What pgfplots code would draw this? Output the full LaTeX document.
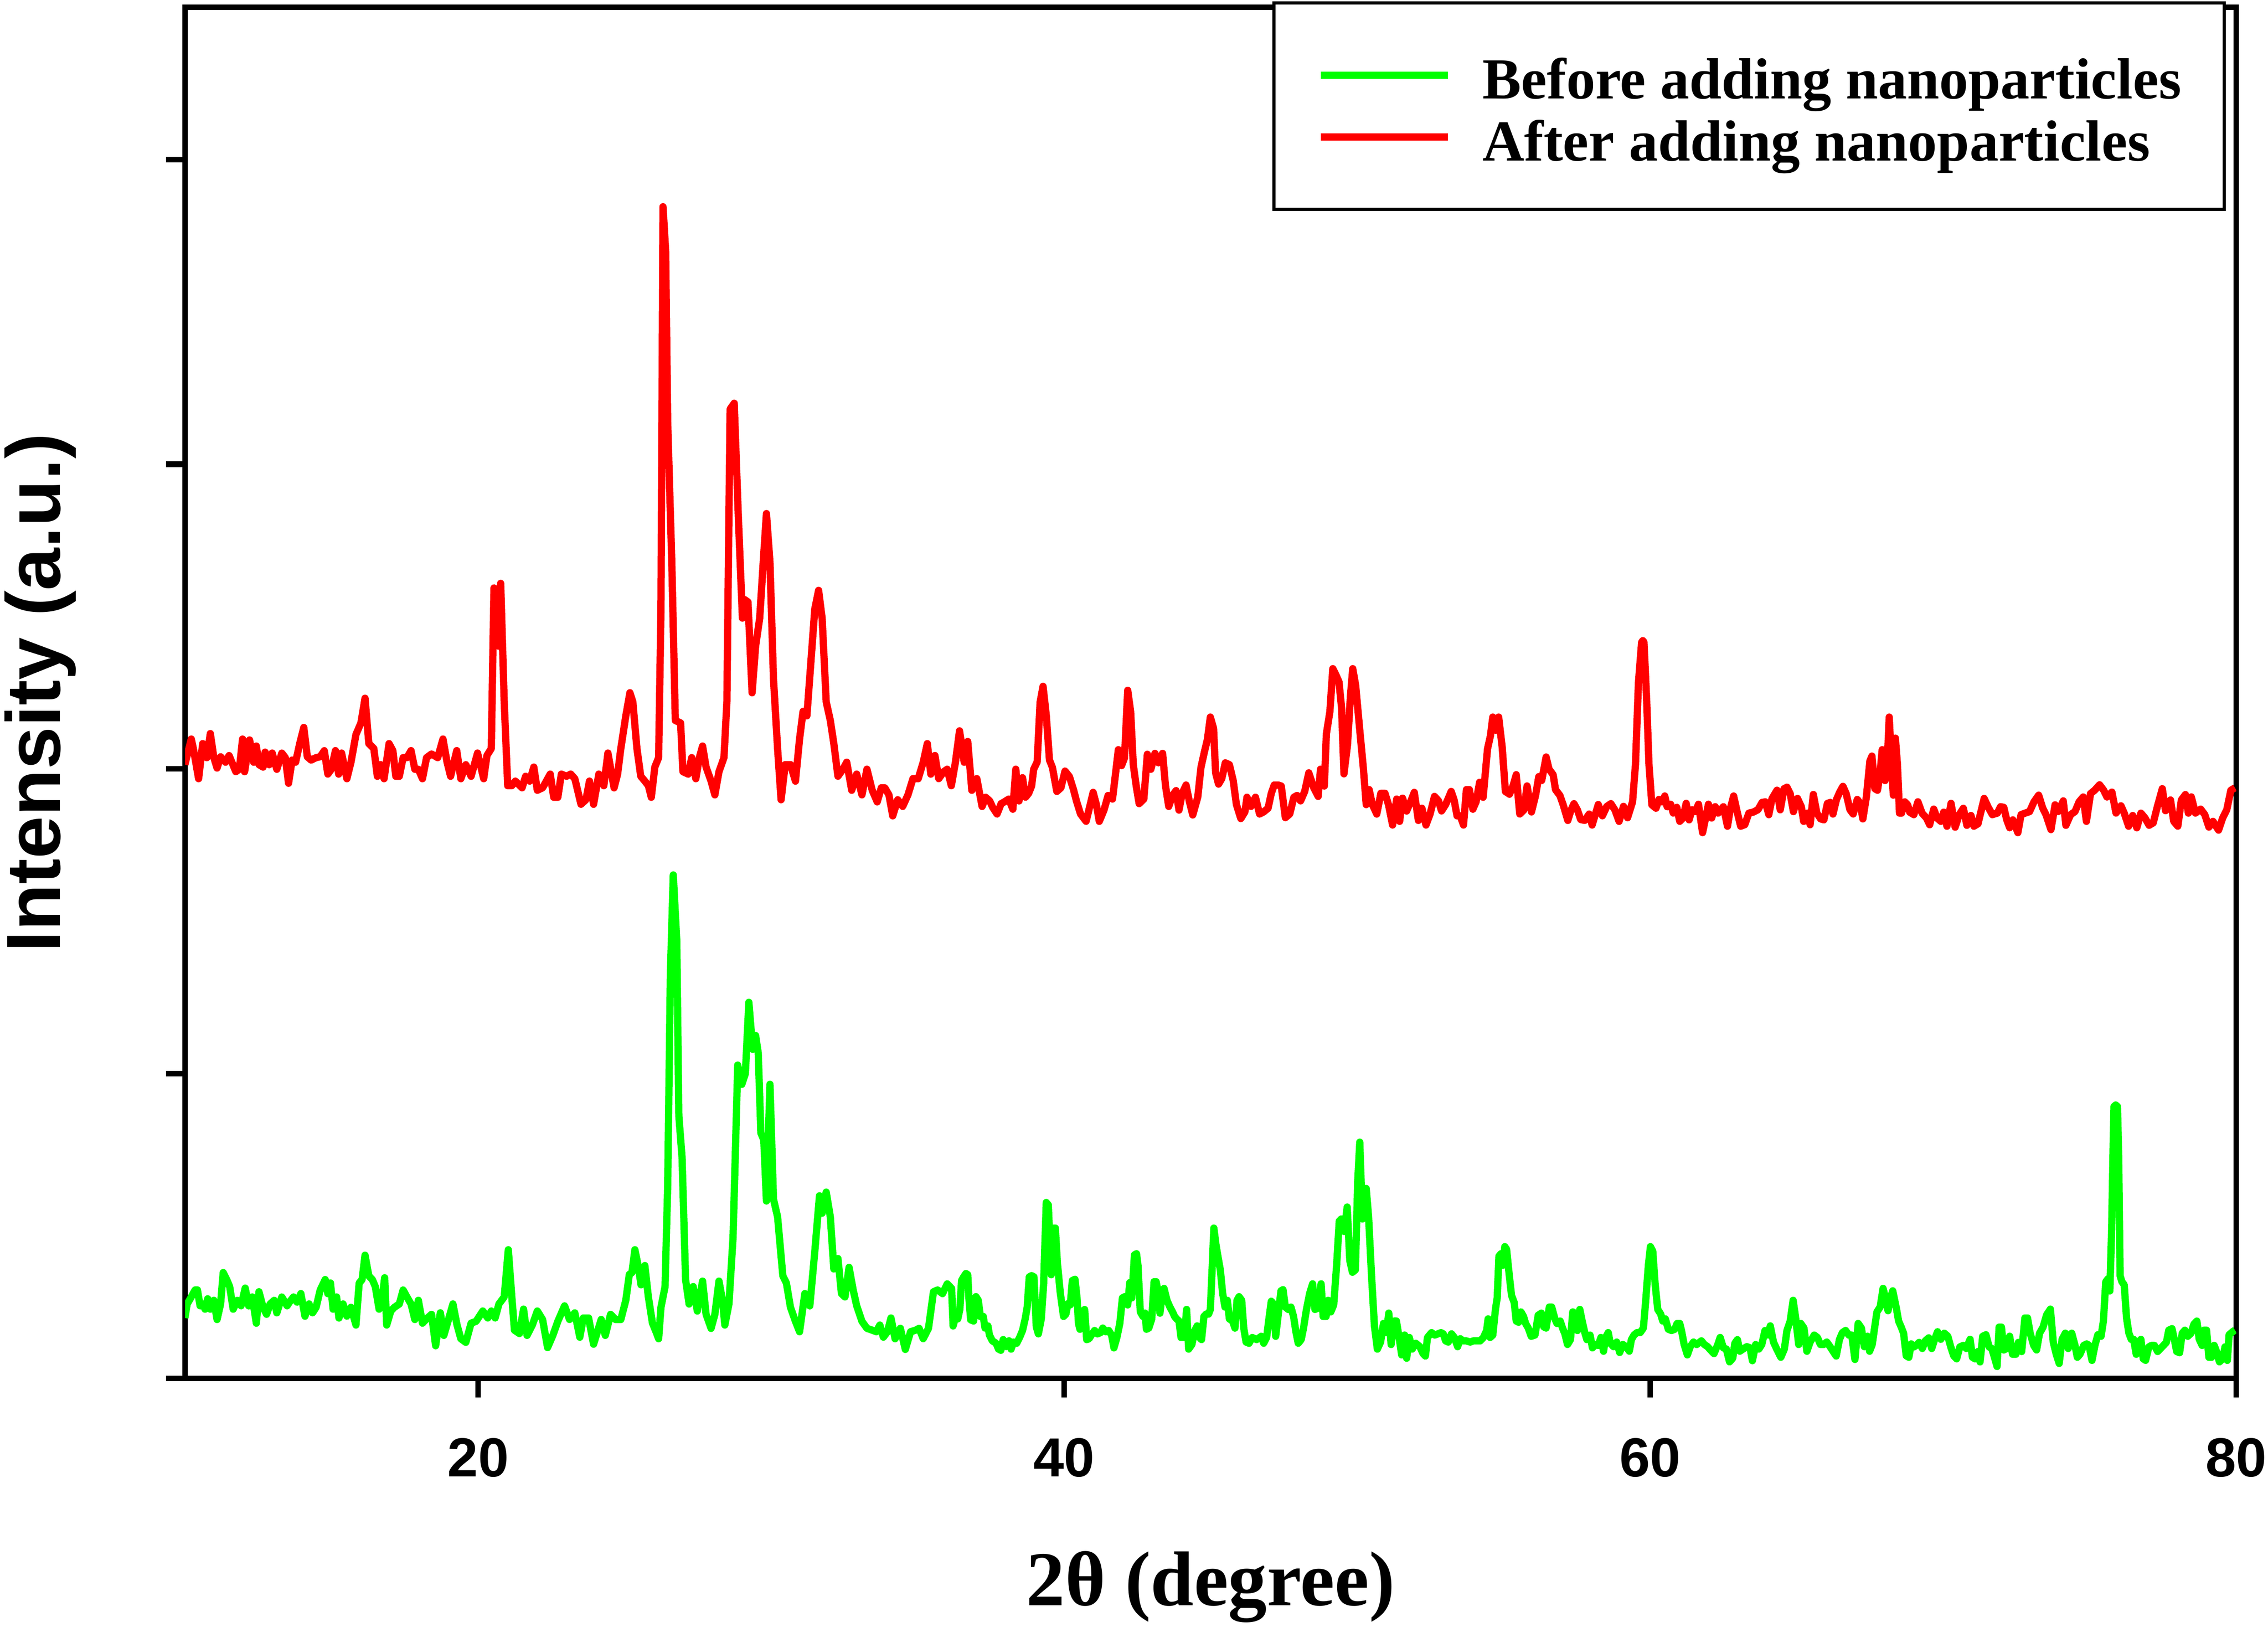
\documentclass[border=0pt]{standalone}
\usepackage{pgfplots}
\pgfplotsset{compat=1.18}
\usepackage{fontspec}
\setmainfont{Liberation Serif}
\setsansfont{Liberation Sans}
\definecolor{xgreen}{RGB}{0,255,0}
\definecolor{xred}{RGB}{255,0,0}
\begin{document}
\begin{tikzpicture}
\useasboundingbox (-36.99pt,-49.6pt) rectangle (416.16pt,275.4pt);
\begin{axis}[
  at={(0,0)}, anchor=south west,
  scale only axis, width=409.8pt, height=273.97pt,
  xmin=10, xmax=80, ymin=0, ymax=4.5,
  axis line style={line width=1.1pt},
  xtick={20,40,60,80}, ytick={0,1,2,3,4}, yticklabel={\relax},
  xtick pos=left, ytick pos=left,
  tick align=outside, major tick length=3.8pt,
  every tick/.style={line width=1.1pt, black},
  /pgf/number format/assume math mode=true,
  xticklabel style={font=\fontsize{11}{13}\selectfont\sffamily\bfseries, anchor=base, yshift=-15.8pt},
  xlabel={2θ (degree)},
  xlabel style={at={([yshift=-45.4pt]axis description cs:0.5,0)}, anchor=base, font=\fontsize{15.5}{18}\selectfont\bfseries},
  ylabel={Intensity (a.u.)},
  ylabel style={at={([xshift=-25pt]axis description cs:0,0.5)}, anchor=base, font=\fontsize{15.3}{18}\selectfont\sffamily\bfseries},
  legend style={at={(0.99506,1.00422)}, anchor=north east, draw=black, line width=0.65pt,
    inner xsep=8.6pt, inner ysep=8.25pt, row sep=-0.05pt, column sep=6.2pt,
    nodes={inner sep=0pt}, font=\fontsize{11.6}{13}\selectfont\bfseries, cells={anchor=west}},
  legend image code/.code={\path[draw=none,fill=none] (0pt,-4pt) rectangle (25.4pt,4pt); \draw[#1] (0pt,0pt) -- (25.4pt,0pt);},
]
\addplot[xgreen, line width=1.45pt, line join=round] coordinates {
(9.99,0.198)(10.07,0.244)(10.21,0.267)(10.34,0.290)(10.42,0.290)(10.51,0.238)(10.60,0.244)(10.68,0.227)(10.77,0.261)(10.86,0.227)
(10.98,0.256)(11.09,0.193)(11.21,0.244)(11.30,0.347)(11.42,0.324)(11.52,0.301)(11.64,0.227)(11.78,0.256)(11.91,0.238)(12.05,0.296)
(12.17,0.238)(12.29,0.267)(12.43,0.181)(12.52,0.284)(12.66,0.233)(12.78,0.210)(12.90,0.244)(13.04,0.256)(13.13,0.215)(13.30,0.267)
(13.48,0.238)(13.56,0.250)(13.70,0.267)(13.82,0.250)(13.95,0.278)(14.09,0.204)(14.23,0.244)(14.35,0.215)(14.47,0.233)(14.61,0.290)
(14.78,0.324)(14.87,0.278)(14.96,0.313)(15.05,0.227)(15.17,0.267)(15.25,0.198)(15.39,0.244)(15.52,0.204)(15.66,0.233)(15.83,0.175)
(15.94,0.313)(16.04,0.324)(16.14,0.404)(16.27,0.336)(16.39,0.324)(16.49,0.301)(16.62,0.227)(16.70,0.244)(16.81,0.330)(16.88,0.175)
(17.02,0.221)(17.14,0.233)(17.31,0.244)(17.44,0.290)(17.57,0.267)(17.71,0.244)(17.84,0.193)(17.96,0.256)(18.10,0.181)(18.27,0.198)
(18.41,0.210)(18.55,0.107)(18.71,0.215)(18.83,0.141)(18.97,0.187)(19.14,0.244)(19.28,0.175)(19.41,0.130)(19.58,0.118)(19.76,0.181)
(19.93,0.187)(20.16,0.221)(20.33,0.198)(20.45,0.221)(20.58,0.198)(20.71,0.244)(20.89,0.267)(21.03,0.422)(21.15,0.267)(21.24,0.158)
(21.41,0.147)(21.55,0.227)(21.67,0.141)(21.85,0.175)(22.02,0.221)(22.20,0.193)(22.37,0.101)(22.55,0.141)(22.72,0.187)(22.95,0.238)
(23.12,0.193)(23.30,0.215)(23.47,0.135)(23.59,0.198)(23.77,0.198)(23.94,0.112)(24.20,0.193)(24.34,0.141)(24.52,0.210)(24.69,0.193)
(24.87,0.193)(25.04,0.256)(25.16,0.341)(25.25,0.347)(25.35,0.422)(25.46,0.370)(25.56,0.307)(25.69,0.370)(25.81,0.267)(25.95,0.181)
(26.07,0.153)(26.16,0.130)(26.24,0.233)(26.38,0.301)(26.47,0.633)(26.56,1.320)(26.66,1.652)(26.78,1.435)(26.85,0.862)(26.96,0.725)
(27.08,0.324)(27.20,0.244)(27.34,0.301)(27.48,0.221)(27.66,0.319)(27.78,0.210)(27.95,0.164)(28.08,0.210)(28.22,0.319)(28.34,0.256)
(28.42,0.175)(28.56,0.244)(28.70,0.462)(28.86,1.028)(29.00,0.965)(29.12,1.000)(29.24,1.234)(29.37,1.080)(29.47,1.125)(29.56,1.068)
(29.65,0.805)(29.75,0.782)(29.84,0.582)(29.96,0.965)(30.08,0.588)(30.22,0.530)(30.40,0.336)(30.52,0.313)(30.66,0.233)(30.83,0.187)
(30.97,0.153)(31.15,0.278)(31.32,0.238)(31.49,0.416)(31.65,0.599)(31.74,0.542)(31.88,0.611)(32.02,0.530)(32.14,0.359)(32.28,0.393)
(32.40,0.278)(32.52,0.267)(32.66,0.364)(32.80,0.290)(32.92,0.238)(33.10,0.187)(33.27,0.164)(33.45,0.158)(33.59,0.153)(33.71,0.175)
(33.83,0.135)(33.97,0.153)(34.09,0.198)(34.23,0.130)(34.41,0.164)(34.58,0.095)(34.76,0.153)(34.93,0.158)(35.05,0.164)(35.19,0.130)
(35.37,0.164)(35.54,0.284)(35.68,0.290)(35.85,0.278)(36.01,0.310)(36.09,0.302)(36.16,0.295)(36.21,0.172)(36.30,0.203)(36.37,0.195)
(36.44,0.226)(36.50,0.321)(36.57,0.333)(36.65,0.344)(36.71,0.340)(36.75,0.264)(36.81,0.192)(36.91,0.188)(36.99,0.268)(37.07,0.256)
(37.14,0.203)(37.24,0.203)(37.30,0.165)(37.40,0.172)(37.45,0.142)(37.55,0.123)(37.68,0.115)(37.76,0.096)(37.84,0.092)(37.92,0.127)
(38.02,0.104)(38.12,0.123)(38.19,0.096)(38.27,0.119)(38.38,0.115)(38.48,0.134)(38.58,0.157)(38.67,0.195)(38.74,0.234)(38.81,0.333)
(38.89,0.337)(38.97,0.333)(39.05,0.169)(39.12,0.146)(39.22,0.195)(39.30,0.310)(39.39,0.577)(39.46,0.569)(39.51,0.455)(39.56,0.340)
(39.64,0.493)(39.70,0.493)(39.77,0.378)(39.87,0.279)(39.98,0.203)(40.06,0.211)(40.13,0.245)(40.21,0.241)(40.28,0.321)(40.37,0.325)
(40.44,0.264)(40.49,0.180)(40.54,0.161)(40.62,0.218)(40.70,0.226)(40.77,0.127)(40.85,0.130)(40.93,0.142)(41.04,0.157)(41.14,0.146)
(41.24,0.150)(41.32,0.165)(41.42,0.153)(41.52,0.157)(41.62,0.142)(41.70,0.100)(41.80,0.134)(41.90,0.180)(41.99,0.264)(42.07,0.268)
(42.17,0.241)(42.24,0.314)(42.31,0.264)(42.40,0.405)(42.47,0.409)(42.52,0.371)(42.60,0.218)(42.69,0.203)(42.76,0.214)(42.81,0.161)
(42.89,0.165)(42.99,0.195)(43.07,0.317)(43.14,0.317)(43.20,0.287)(43.27,0.214)(43.35,0.279)(43.41,0.295)(43.51,0.256)(43.61,0.234)
(43.70,0.218)(43.77,0.203)(43.84,0.195)(43.92,0.188)(43.99,0.134)(44.10,0.134)(44.18,0.226)(44.25,0.096)(44.36,0.111)(44.46,0.157)
(44.54,0.172)(44.62,0.134)(44.69,0.127)(44.77,0.203)(44.85,0.211)(44.93,0.211)(44.99,0.226)(45.06,0.378)(45.11,0.493)(45.18,0.440)
(45.26,0.394)(45.33,0.356)(45.41,0.279)(45.49,0.234)(45.57,0.256)(45.64,0.195)(45.75,0.188)(45.83,0.165)(45.90,0.256)(45.97,0.268)
(46.06,0.256)(46.13,0.165)(46.21,0.119)(46.31,0.115)(46.42,0.134)(46.57,0.127)(46.73,0.138)(46.81,0.115)(46.91,0.134)(46.98,0.188)
(47.07,0.253)(47.14,0.245)(47.22,0.138)(47.29,0.195)(47.40,0.287)(47.47,0.291)(47.55,0.234)(47.65,0.226)(47.74,0.234)(47.83,0.203)
(47.91,0.153)(47.99,0.115)(48.09,0.127)(48.17,0.165)(48.27,0.226)(48.38,0.279)(48.48,0.310)(48.56,0.226)(48.66,0.230)(48.77,0.310)
(48.84,0.203)(48.94,0.203)(49.01,0.256)(49.10,0.218)(49.20,0.241)(49.30,0.371)(49.39,0.516)(49.46,0.523)(49.56,0.482)(49.66,0.562)
(49.75,0.386)(49.84,0.348)(49.94,0.356)(50.02,0.646)(50.09,0.775)(50.18,0.523)(50.25,0.623)(50.31,0.623)(50.39,0.531)(50.49,0.340)
(50.59,0.172)(50.69,0.096)(50.80,0.119)(50.90,0.180)(51.00,0.150)(51.08,0.214)(51.16,0.111)(51.26,0.188)(51.34,0.188)(51.42,0.142)
(51.52,0.077)(51.62,0.142)(51.69,0.066)(51.78,0.134)(51.88,0.096)(52.00,0.115)(52.14,0.104)(52.25,0.081)(52.33,0.073)(52.40,0.134)
(52.47,0.142)(52.54,0.150)(52.65,0.142)(52.76,0.146)(52.86,0.150)(52.94,0.146)(53.02,0.123)(53.11,0.119)(53.22,0.146)(53.32,0.134)
(53.43,0.104)(53.52,0.130)(53.61,0.123)(53.72,0.123)(53.86,0.119)(53.97,0.123)(54.09,0.123)(54.20,0.123)(54.31,0.134)(54.42,0.157)
(54.47,0.195)(54.54,0.134)(54.63,0.142)(54.72,0.226)(54.78,0.264)(54.84,0.401)(54.91,0.409)(54.97,0.371)(55.04,0.432)(55.10,0.424)
(55.19,0.340)(55.27,0.272)(55.36,0.249)(55.43,0.188)(55.51,0.184)(55.59,0.218)(55.68,0.203)(55.75,0.180)(55.84,0.165)(55.94,0.138)
(56.07,0.142)(56.18,0.207)(56.29,0.214)(56.37,0.169)(56.45,0.165)(56.56,0.234)(56.64,0.234)(56.75,0.195)(56.82,0.180)(56.93,0.188)
(57.01,0.165)(57.09,0.146)(57.18,0.111)(57.28,0.127)(57.36,0.218)(57.43,0.214)(57.52,0.157)(57.60,0.226)(57.68,0.188)(57.77,0.150)
(57.84,0.127)(57.95,0.142)(58.03,0.100)(58.14,0.111)(58.23,0.108)(58.32,0.134)(58.41,0.089)(58.48,0.134)(58.57,0.150)(58.64,0.115)
(58.75,0.104)(58.86,0.119)(58.96,0.085)(59.07,0.111)(59.18,0.104)(59.29,0.089)(59.36,0.127)(59.45,0.142)(59.55,0.150)(59.66,0.150)
(59.77,0.165)(59.85,0.256)(59.94,0.371)(60.01,0.432)(60.09,0.417)(60.17,0.310)(60.26,0.226)(60.36,0.211)(60.43,0.188)(60.52,0.195)
(60.62,0.161)(60.73,0.157)(60.84,0.161)(60.92,0.180)(61.01,0.180)(61.07,0.157)(61.16,0.111)(61.27,0.077)(61.37,0.104)(61.48,0.119)
(61.59,0.111)(61.75,0.123)(61.85,0.111)(61.96,0.104)(62.07,0.092)(62.18,0.081)(62.31,0.111)(62.39,0.134)(62.50,0.100)(62.60,0.096)
(62.71,0.054)(62.82,0.066)(62.89,0.115)(62.98,0.127)(63.06,0.089)(63.17,0.096)(63.30,0.104)(63.41,0.100)(63.49,0.058)(63.60,0.111)
(63.71,0.096)(63.81,0.111)(63.92,0.157)(64.03,0.142)(64.10,0.172)(64.21,0.119)(64.32,0.096)(64.46,0.069)(64.58,0.096)(64.67,0.157)
(64.78,0.188)(64.88,0.256)(64.96,0.203)(65.07,0.111)(65.14,0.180)(65.25,0.165)(65.35,0.089)(65.46,0.119)(65.60,0.142)(65.71,0.134)
(65.81,0.111)(65.92,0.111)(66.03,0.119)(66.14,0.104)(66.24,0.089)(66.35,0.073)(66.46,0.127)(66.56,0.150)(66.67,0.157)(66.78,0.142)
(66.88,0.142)(66.99,0.062)(67.10,0.180)(67.21,0.165)(67.31,0.104)(67.42,0.138)(67.49,0.089)(67.58,0.111)(67.67,0.172)(67.74,0.218)
(67.85,0.234)(67.95,0.295)(68.03,0.264)(68.12,0.222)(68.20,0.264)(68.28,0.287)(68.41,0.227)(68.48,0.188)(68.57,0.168)(68.65,0.148)
(68.74,0.074)(68.83,0.069)(68.91,0.113)(69.00,0.103)(69.08,0.108)(69.18,0.118)(69.29,0.098)(69.39,0.123)(69.51,0.133)(69.61,0.098)
(69.71,0.128)(69.81,0.153)(69.92,0.128)(70.04,0.148)(70.16,0.138)(70.26,0.103)(70.36,0.074)(70.46,0.064)(70.57,0.103)(70.69,0.108)
(70.79,0.098)(70.92,0.128)(71.00,0.069)(71.09,0.064)(71.19,0.088)(71.26,0.054)(71.35,0.138)(71.46,0.143)(71.57,0.103)(71.66,0.098)
(71.75,0.069)(71.84,0.039)(71.91,0.168)(71.99,0.168)(72.07,0.093)(72.17,0.098)(72.27,0.138)(72.37,0.079)(72.48,0.079)(72.57,0.118)
(72.68,0.088)(72.79,0.198)(72.88,0.198)(72.97,0.148)(73.09,0.108)(73.19,0.093)(73.29,0.148)(73.41,0.168)(73.53,0.208)(73.66,0.227)
(73.76,0.118)(73.86,0.079)(73.96,0.049)(74.06,0.128)(74.17,0.148)(74.27,0.098)(74.39,0.148)(74.50,0.108)(74.58,0.069)(74.67,0.079)
(74.80,0.108)(74.90,0.113)(74.98,0.108)(75.08,0.059)(75.18,0.108)(75.28,0.143)(75.39,0.138)(75.47,0.188)(75.55,0.317)(75.63,0.327)
(75.69,0.287)(75.75,0.485)(75.80,0.753)(75.83,0.892)(75.89,0.897)(75.95,0.892)(75.99,0.733)(76.04,0.337)(76.10,0.317)(76.18,0.307)
(76.26,0.198)(76.34,0.148)(76.42,0.128)(76.50,0.128)(76.59,0.079)(76.67,0.118)(76.75,0.128)(76.83,0.064)(76.91,0.059)(77.02,0.103)
(77.11,0.108)(77.21,0.108)(77.32,0.088)(77.42,0.098)(77.52,0.108)(77.62,0.118)(77.70,0.158)(77.81,0.163)(77.89,0.128)(77.97,0.088)
(78.07,0.084)(78.16,0.148)(78.25,0.158)(78.35,0.138)(78.46,0.148)(78.56,0.178)(78.66,0.188)(78.74,0.128)(78.84,0.108)(78.90,0.158)
(78.99,0.158)(79.07,0.069)(79.16,0.069)(79.25,0.108)(79.33,0.088)(79.43,0.054)(79.54,0.064)(79.62,0.103)(79.70,0.059)(79.76,0.143)
(79.88,0.153)(79.96,0.158)
};
\addlegendentry{\rule[-2.4pt]{0pt}{13.3pt}Before adding nanoparticles}
\addplot[xred, line width=1.45pt, line join=round] coordinates {
(9.99,2.014)(10.21,2.098)(10.28,2.067)(10.46,1.968)(10.60,2.083)(10.74,2.037)(10.86,2.116)(10.98,2.037)(11.09,2.003)(11.21,2.040)
(11.38,2.022)(11.50,2.044)(11.73,1.991)(11.85,1.999)(11.96,2.098)(12.03,1.991)(12.20,2.095)(12.34,2.022)(12.43,2.075)(12.52,2.014)
(12.66,2.006)(12.73,2.055)(12.87,2.014)(12.97,2.052)(13.13,1.999)(13.30,2.052)(13.42,2.037)(13.53,1.953)(13.65,2.029)(13.77,2.022)
(13.91,2.083)(14.05,2.136)(14.17,2.040)(14.30,2.029)(14.47,2.037)(14.61,2.040)(14.75,2.060)(14.87,1.983)(14.99,1.999)(15.13,2.060)
(15.24,1.983)(15.34,2.052)(15.52,1.968)(15.66,2.022)(15.83,2.113)(16.00,2.151)(16.14,2.232)(16.27,2.083)(16.44,2.067)(16.56,1.976)
(16.67,2.014)(16.79,1.968)(16.96,2.083)(17.09,2.060)(17.19,1.976)(17.31,1.976)(17.44,2.037)(17.57,2.037)(17.71,2.060)(17.84,1.999)
(17.96,1.999)(18.10,1.968)(18.24,2.037)(18.41,2.049)(18.62,2.037)(18.80,2.098)(18.94,2.022)(19.06,1.976)(19.27,2.060)(19.41,1.968)
(19.58,2.014)(19.76,1.976)(19.98,2.052)(20.19,1.968)(20.30,2.044)(20.45,2.067)(20.54,2.594)(20.63,2.586)(20.70,2.403)(20.77,2.609)
(20.89,2.220)(21.01,1.945)(21.15,1.945)(21.27,1.960)(21.50,1.938)(21.62,1.976)(21.76,1.960)(21.90,2.006)(22.02,1.930)(22.20,1.938)
(22.46,1.983)(22.58,1.907)(22.72,1.907)(22.84,1.983)(23.02,1.976)(23.16,1.983)(23.30,1.968)(23.51,1.884)(23.68,1.899)(23.80,1.960)
(23.94,1.884)(24.12,1.983)(24.29,1.945)(24.43,2.052)(24.64,1.938)(24.76,1.983)(24.87,2.067)(25.04,2.174)(25.18,2.250)(25.28,2.220)
(25.42,2.067)(25.55,1.976)(25.69,1.960)(25.81,1.945)(25.91,1.907)(26.03,2.006)(26.16,2.037)(26.24,2.525)(26.31,3.845)(26.40,3.700)
(26.47,3.136)(26.61,2.678)(26.73,2.159)(26.91,2.151)(26.99,1.991)(27.17,1.983)(27.29,2.037)(27.43,1.968)(27.55,2.037)(27.66,2.075)
(27.78,2.006)(27.95,1.960)(28.08,1.915)(28.22,1.991)(28.39,2.037)(28.49,2.220)(28.60,3.181)(28.74,3.200)(28.88,2.830)(29.02,2.495)
(29.09,2.556)(29.21,2.548)(29.35,2.250)(29.47,2.403)(29.61,2.495)(29.73,2.678)(29.84,2.838)(29.96,2.678)(30.08,2.296)(30.22,2.067)
(30.34,1.899)(30.48,2.014)(30.66,2.014)(30.83,1.960)(30.97,2.098)(31.09,2.189)(31.22,2.174)(31.35,2.342)(31.49,2.525)(31.62,2.586)
(31.74,2.495)(31.88,2.220)(32.02,2.159)(32.14,2.083)(32.28,1.976)(32.45,1.999)(32.58,2.022)(32.75,1.930)(32.92,1.983)(33.10,1.915)
(33.27,1.999)(33.45,1.930)(33.62,1.892)(33.76,1.938)(33.88,1.938)(34.02,1.915)(34.15,1.846)(34.32,1.899)(34.49,1.877)(34.67,1.915)
(34.84,1.968)(35.02,1.968)(35.19,2.022)(35.33,2.083)(35.45,1.983)(35.59,2.044)(35.72,1.968)(35.89,1.991)(36.01,1.999)(36.15,1.945)
(36.29,2.022)(36.43,2.125)(36.59,2.022)(36.71,2.090)(36.85,1.930)(37.02,1.968)(37.20,1.877)(37.32,1.907)(37.46,1.895)(37.56,1.874)
(37.71,1.852)(37.85,1.886)(37.96,1.892)(38.11,1.901)(38.25,1.868)(38.35,1.999)(38.46,1.895)(38.58,1.971)(38.68,1.907)(38.79,1.920)
(38.89,1.944)(38.96,1.999)(39.08,2.023)(39.18,2.219)(39.28,2.271)(39.39,2.176)(39.50,2.029)(39.60,2.005)(39.75,1.926)(39.89,1.938)
(40.03,1.993)(40.18,1.975)(40.32,1.932)(40.42,1.895)(40.56,1.852)(40.75,1.828)(40.89,1.883)(40.99,1.923)(41.10,1.883)(41.20,1.828)
(41.36,1.865)(41.50,1.913)(41.65,1.901)(41.75,1.981)(41.85,2.063)(41.96,2.011)(42.06,2.036)(42.17,2.258)(42.27,2.188)(42.36,2.014)
(42.46,1.944)(42.56,1.886)(42.72,1.901)(42.84,2.048)(42.96,1.999)(43.10,2.051)(43.22,2.020)(43.36,2.051)(43.46,1.944)(43.57,1.877)
(43.70,1.913)(43.82,1.929)(43.92,1.865)(44.03,1.920)(44.16,1.947)(44.27,1.895)(44.39,1.849)(44.56,1.907)(44.67,2.005)(44.79,2.057)
(44.89,2.097)(44.99,2.170)(45.10,2.133)(45.17,1.987)(45.27,1.950)(45.38,1.968)(45.50,2.020)(45.64,2.014)(45.77,1.962)(45.88,1.883)
(46.03,1.837)(46.17,1.859)(46.24,1.907)(46.38,1.877)(46.53,1.907)(46.67,1.852)(46.81,1.859)(46.96,1.871)(47.07,1.920)(47.17,1.947)
(47.31,1.947)(47.41,1.944)(47.55,1.840)(47.70,1.852)(47.84,1.907)(47.95,1.913)(48.07,1.895)(48.21,1.926)(48.35,1.987)(48.52,1.938)
(48.67,1.910)(48.75,1.999)(48.88,1.944)(48.95,2.115)(49.07,2.188)(49.17,2.329)(49.27,2.310)(49.38,2.286)(49.47,2.200)(49.55,1.984)
(49.67,2.078)(49.77,2.237)(49.85,2.329)(49.95,2.274)(50.09,2.127)(50.21,2.005)(50.31,1.883)(50.41,1.932)(50.52,1.883)(50.67,1.852)
(50.81,1.920)(50.95,1.920)(51.07,1.883)(51.21,1.816)(51.35,1.901)(51.45,1.828)(51.55,1.904)(51.69,1.862)(51.81,1.889)(51.95,1.923)
(52.09,1.831)(52.21,1.871)(52.35,1.816)(52.49,1.852)(52.64,1.910)(52.78,1.895)(52.88,1.862)(53.02,1.883)(53.21,1.926)(53.31,1.898)
(53.41,1.846)(53.52,1.846)(53.63,1.816)(53.73,1.932)(53.83,1.932)(53.95,1.868)(54.06,1.892)(54.18,1.956)(54.30,1.907)(54.45,2.066)
(54.55,2.109)(54.63,2.170)(54.73,2.127)(54.83,2.170)(54.95,2.072)(55.06,1.926)(55.20,1.917)(55.32,1.944)(55.43,1.981)(55.55,1.852)
(55.69,1.865)(55.80,1.944)(55.95,1.859)(56.09,1.913)(56.20,1.975)(56.30,1.962)(56.45,2.039)(56.55,1.999)(56.69,1.981)(56.77,1.932)
(56.92,1.913)(57.03,1.883)(57.19,1.831)(57.30,1.865)(57.40,1.886)(57.52,1.865)(57.63,1.834)(57.77,1.831)(57.92,1.852)(58.02,1.816)
(58.23,1.883)(58.37,1.846)(58.52,1.877)(58.66,1.886)(58.80,1.865)(58.94,1.828)(59.09,1.877)(59.23,1.840)(59.40,1.892)(59.50,2.015)
(59.60,2.282)(59.71,2.416)(59.75,2.421)(59.79,2.416)(59.88,2.229)(59.96,2.015)(60.06,1.882)(60.20,1.871)(60.30,1.900)(60.41,1.892)
(60.50,1.911)(60.58,1.876)(60.70,1.884)(60.79,1.855)(60.91,1.874)(61.01,1.828)(61.12,1.839)(61.23,1.887)(61.33,1.833)(61.43,1.866)
(61.54,1.860)(61.65,1.884)(61.79,1.791)(61.99,1.884)(62.10,1.839)(62.22,1.876)(62.32,1.855)(62.50,1.876)(62.64,1.812)(62.74,1.871)
(62.85,1.911)(62.98,1.855)(63.09,1.812)(63.23,1.817)(63.37,1.855)(63.51,1.858)(63.68,1.866)(63.82,1.890)(63.93,1.892)(64.05,1.850)
(64.16,1.903)(64.33,1.930)(64.44,1.866)(64.57,1.935)(64.67,1.940)(64.78,1.919)(64.89,1.860)(65.03,1.903)(65.16,1.876)(65.24,1.828)
(65.37,1.855)(65.46,1.817)(65.57,1.916)(65.69,1.855)(65.82,1.836)(65.93,1.833)(66.05,1.887)(66.15,1.890)(66.24,1.852)(66.36,1.900)
(66.47,1.924)(66.58,1.943)(66.69,1.919)(66.82,1.866)(66.93,1.852)(67.07,1.900)(67.17,1.887)(67.26,1.836)(67.38,1.908)(67.50,2.026)
(67.57,2.042)(67.67,1.935)(67.76,1.930)(67.85,1.988)(67.92,2.063)(68.02,1.962)(68.09,2.015)(68.16,2.170)(68.23,2.031)(68.30,1.914)
(68.37,2.101)(68.44,2.015)(68.51,1.855)(68.58,1.855)(68.69,1.892)(68.79,1.882)(68.86,1.858)(69.00,1.850)(69.14,1.892)(69.28,1.855)
(69.43,1.839)(69.54,1.817)(69.68,1.868)(69.79,1.839)(69.92,1.828)(70.02,1.858)(70.13,1.812)(70.27,1.887)(70.41,1.809)(70.55,1.850)
(70.69,1.871)(70.81,1.815)(70.95,1.847)(71.05,1.812)(71.19,1.820)(71.40,1.903)(71.54,1.874)(71.68,1.850)(71.85,1.855)(71.96,1.876)
(72.07,1.874)(72.17,1.833)(72.27,1.807)(72.38,1.833)(72.55,1.791)(72.66,1.850)(72.80,1.855)(72.95,1.860)(73.10,1.892)(73.26,1.914)
(73.40,1.871)(73.51,1.850)(73.68,1.801)(73.82,1.882)(73.93,1.860)(74.10,1.895)(74.19,1.815)(74.35,1.850)(74.50,1.860)(74.64,1.892)
(74.78,1.908)(74.89,1.828)(75.03,1.919)(75.17,1.930)(75.34,1.948)(75.48,1.930)(75.59,1.908)(75.76,1.924)(75.90,1.855)(76.07,1.879)
(76.18,1.855)(76.33,1.812)(76.47,1.847)(76.61,1.807)(76.75,1.855)(76.89,1.839)(77.03,1.815)(77.17,1.823)(77.31,1.876)(77.48,1.935)
(77.59,1.863)(77.76,1.898)(77.87,1.828)(78.01,1.812)(78.13,1.898)(78.27,1.916)(78.37,1.855)(78.47,1.908)(78.61,1.855)(78.79,1.868)
(78.93,1.850)(79.07,1.809)(79.21,1.828)(79.40,1.799)(79.54,1.839)(79.68,1.866)(79.82,1.930)(79.96,1.938)
};
\addlegendentry{\rule[-2.4pt]{0pt}{13.3pt}After adding nanoparticles}
\end{axis}
\end{tikzpicture}
\end{document}
